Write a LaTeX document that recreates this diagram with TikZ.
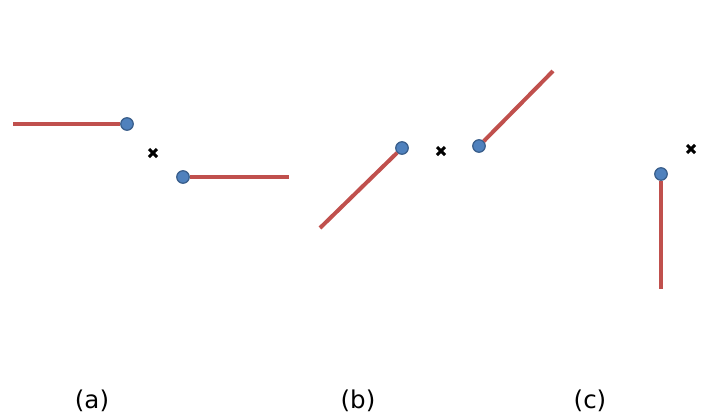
\documentclass[tikz,border=0pt]{standalone}
\usepackage{fontspec}
\setmainfont{DejaVu Sans}
\definecolor{seg}{RGB}{192,80,77}
\definecolor{dotfill}{RGB}{79,129,189}
\definecolor{dotedge}{RGB}{56,93,138}
\begin{document}
\begin{tikzpicture}[x=1pt,y=-1pt,
  segline/.style={draw=seg,line width=4pt},
  enddot/.style={circle,fill=dotfill,draw=dotedge,line width=1.2pt,minimum size=12.5pt,inner sep=0pt},
  cross/.style={draw=black,line width=3pt},
  lab/.style={font=\fontsize{24.5}{28}\selectfont,inner sep=0pt}]
\useasboundingbox (0,0) rectangle (710,416);
% (a)
\coordinate (a1) at (13,124);
\node[enddot] (ad1) at (127,124) {};
\node[enddot] (ad2) at (183,177) {};
\coordinate (a2) at (289,177);
\draw[segline] (a1) -- (ad1);
\draw[segline] (ad2) -- (a2);
\coordinate (ax) at (153,153);
% (b)
\coordinate (b1) at (320,228);
\node[enddot] (bd1) at (402,148) {};
\node[enddot] (bd2) at (479,146) {};
\coordinate (b2) at (553,71);
\draw[segline] (b1) -- (bd1);
\draw[segline] (bd2) -- (b2);
\coordinate (bx) at (441,151);
% (c)
\node[enddot] (cd1) at (661,174) {};
\coordinate (c1) at (661,289);
\draw[segline] (cd1) -- (c1);
\coordinate (cx) at (691,149);
% crosses
\foreach \p in {ax,bx,cx}{
  \draw[cross] ([shift={(-4,-4)}]\p) -- ([shift={(4,4)}]\p);
  \draw[cross] ([shift={(-4,4)}]\p) -- ([shift={(4,-4)}]\p);
}
\node[lab] (la) at (92,401) {(a)};
\node[lab] (lb) at (358,401) {(b)};
\node[lab] (lc) at (590,401) {(c)};
\end{tikzpicture}
\end{document}
